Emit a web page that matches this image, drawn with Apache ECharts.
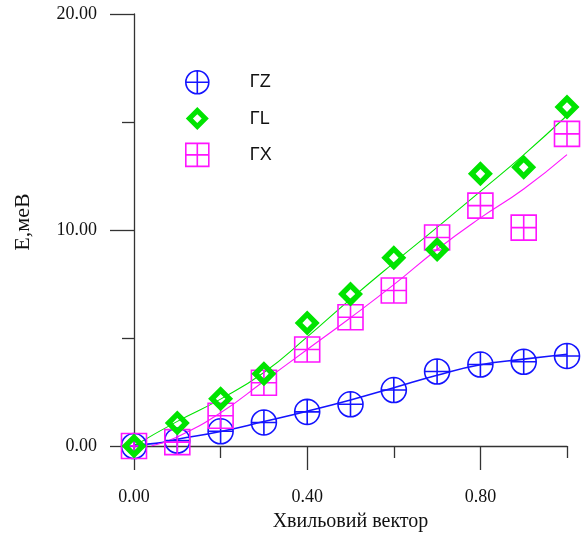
<!DOCTYPE html>
<html>
<head>
<meta charset="utf-8">
<script src="https://cdn.jsdelivr.net/npm/echarts@6/dist/echarts.min.js"></script>
<style>
html,body{margin:0;padding:0;background:#fff;}
#chart{width:581px;height:540px;}
</style>
</head>
<body>
<div id="chart"></div>
<script>
// ---- data ----
const seriesNames = ['ΓZ', 'ΓL', 'ΓX'];
const xValues = [0, 0.1, 0.2, 0.3, 0.4, 0.5, 0.6, 0.7, 0.8, 0.9, 1.0];
const gzValues = [0, 0.25, 0.68, 1.09, 1.58, 1.93, 2.59, 3.45, 3.77, 3.90, 4.17];
const glValues = [0, 1.07, 2.19, 3.35, 5.70, 7.04, 8.72, 9.10, 12.60, 12.90, 15.69];
const gxValues = [0, 0.18, 1.40, 2.93, 4.47, 5.96, 7.20, 9.65, 11.13, 10.11, 14.45];

// fitted curves
const gzFitX = [0, 0.05, 0.1, 0.2, 0.3, 0.4, 0.5, 0.6, 0.7, 0.8, 0.9, 1.0];
const gzFitY = [0.05, 0.12, 0.31, 0.67, 1.13, 1.61, 2.13, 2.70, 3.28, 3.76, 4.02, 4.25];
const glFitX = [0, 0.1, 0.2, 0.3, 0.4, 0.5, 0.6, 0.7, 0.8, 0.9, 1.0];
const glFitY = [0, 1.14, 2.17, 3.40, 5.05, 6.80, 8.48, 10.12, 11.79, 13.48, 15.30];
const gxFitX = [0.04, 0.1, 0.2, 0.3, 0.4, 0.5, 0.6, 0.7, 0.8, 0.9, 1.0];
const gxFitY = [0, 0.42, 1.54, 3.00, 4.47, 5.94, 7.47, 9.10, 10.56, 11.90, 13.49];

const xMajorTicks = [0, 0.4, 0.8];
const xMinorTicks = [0.2, 0.6, 1.0];

const xName = 'Хвильовий вектор';
const yName = 'Е,меВ';

// ---- styles ----
const cBlue = '#1414ff', cGreen = '#00e400', cMag = '#ff14ff';
const axisColor = '#333';
const circlePath = 'path://M0,-10A10,10 0 1,1 0,10A10,10 0 1,1 0,-10ZM-10,0L10,0M0,-10L0,10';
const diamondPath = 'path://M0,-12L12,0L0,12L-12,0ZM0,-4.6L-4.6,0L0,4.6L4.6,0Z';
const squarePath = 'path://M-10,-10L10,-10L10,10L-10,10ZM-10,0L10,0M0,-10L0,10';

const pairs = (xs, ys) => xs.map((x, i) => [x, ys[i]]);

const chart = echarts.init(document.getElementById('chart'), null, {renderer: 'canvas'});
const serif = 'Liberation Serif';

chart.setOption({
  animation: false,
  backgroundColor: '#fff',
  grid: {left: 134, right: 14, top: 14, bottom: 94, containLabel: false},
  legend: {
    orient: 'vertical', left: 185, top: 70, padding: 0,
    itemWidth: 23, itemHeight: 23, itemGap: 12.5,
    textStyle: {fontFamily: 'Liberation Sans', fontSize: 18, color: '#111', padding: [0, 0, 0, 36]},
    data: [
      {name: seriesNames[0], icon: circlePath, itemStyle: {color: 'rgba(0,0,0,0)', borderColor: cBlue, borderWidth: 1.6}},
      {name: seriesNames[1], icon: diamondPath, itemStyle: {color: cGreen, borderWidth: 0}},
      {name: seriesNames[2], icon: squarePath, itemStyle: {color: 'rgba(0,0,0,0)', borderColor: cMag, borderWidth: 1.6}}
    ]
  },
  xAxis: [
    {
      type: 'value', min: 0, max: 1, position: 'bottom',
      name: xName, nameLocation: 'middle', nameGap: 66,
      nameTextStyle: {fontFamily: serif, fontSize: 20, color: '#111'},
      axisLine: {show: true, onZero: false, lineStyle: {color: axisColor, width: 1.3}},
      axisTick: {show: true, customValues: xMajorTicks, length: 24, inside: false, lineStyle: {color: axisColor, width: 1.3}},
      axisLabel: {show: true, customValues: xMajorTicks, margin: 42, fontFamily: serif, fontSize: 18, color: '#111',
                  formatter: v => v.toFixed(2)},
      splitLine: {show: false}
    },
    {
      type: 'value', min: 0, max: 1, position: 'bottom',
      axisLine: {show: false},
      axisTick: {show: true, customValues: xMinorTicks, length: 12, inside: false, lineStyle: {color: axisColor, width: 1.3}},
      axisLabel: {show: false},
      splitLine: {show: false}
    }
  ],
  yAxis: {
    type: 'value', min: 0, max: 20, interval: 10,
    name: yName, nameLocation: 'middle', nameGap: 100, nameRotate: 90,
    nameTextStyle: {fontFamily: serif, fontSize: 22, color: '#111', padding: [0, 0, 0, 16]},
    axisLine: {show: true, onZero: false, lineStyle: {color: axisColor, width: 1.3}},
    axisTick: {show: true, length: 24, inside: false, lineStyle: {color: axisColor, width: 1.3}},
    minorTick: {show: true, splitNumber: 2, length: 12, lineStyle: {color: axisColor, width: 1.3}},
    axisLabel: {margin: 37, fontFamily: serif, fontSize: 18, color: '#111', formatter: v => v.toFixed(2)},
    splitLine: {show: false},
    minorSplitLine: {show: false}
  },
  series: [
    {type: 'line', data: pairs(gzFitX, gzFitY), smooth: true, showSymbol: false, symbol: 'none',
     lineStyle: {color: cBlue, width: 1.6}, z: 3, silent: true},
    {type: 'line', data: pairs(glFitX, glFitY), smooth: true, showSymbol: false, symbol: 'none',
     lineStyle: {color: cGreen, width: 1.1}, z: 3, silent: true},
    {type: 'line', data: pairs(gxFitX, gxFitY), smooth: true, showSymbol: false, symbol: 'none',
     lineStyle: {color: cMag, width: 1.1}, z: 3, silent: true},
    {name: seriesNames[0], type: 'scatter', data: pairs(xValues, gzValues), symbol: circlePath, symbolSize: 25,
     itemStyle: {color: 'rgba(0,0,0,0)', borderColor: cBlue, borderWidth: 1.6, opacity: 1}, z: 4},
    {name: seriesNames[1], type: 'scatter', data: pairs(xValues, glValues), symbol: diamondPath, symbolSize: 25,
     itemStyle: {color: cGreen, borderWidth: 0, opacity: 1}, z: 5},
    {name: seriesNames[2], type: 'scatter', data: pairs(xValues, gxValues), symbol: squarePath, symbolSize: 25,
     itemStyle: {color: 'rgba(0,0,0,0)', borderColor: cMag, borderWidth: 1.6, opacity: 1}, z: 4}
  ]
});
</script>
</body>
</html>
